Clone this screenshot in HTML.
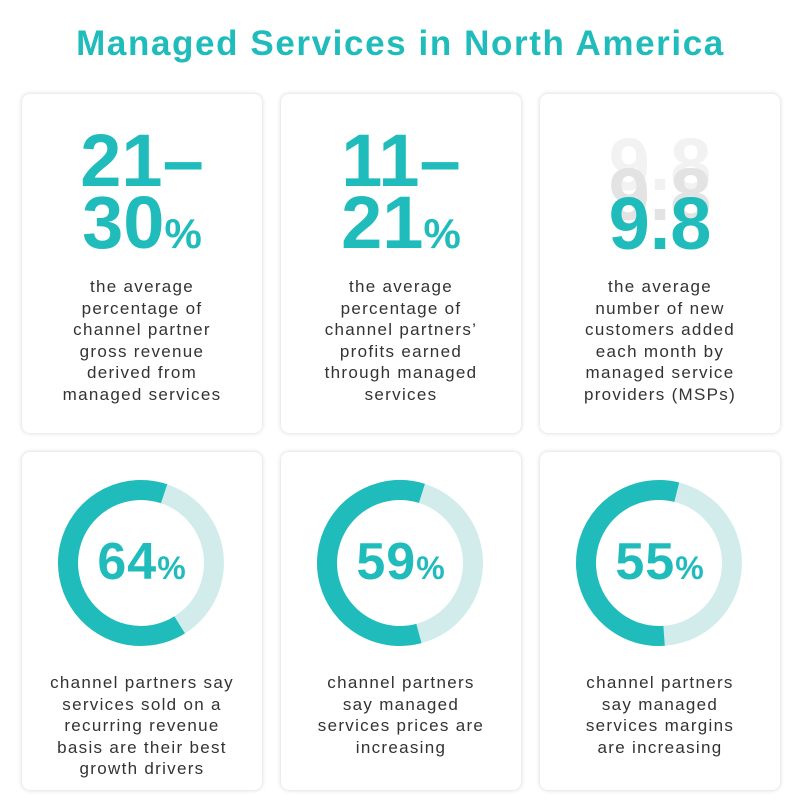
<!DOCTYPE html>
<html><head><meta charset="utf-8"><style>
body{margin:0;width:801px;height:810px;background:#fff;font-family:"Liberation Sans",sans-serif;position:relative;overflow:hidden}
.t{position:absolute;top:24px;left:0;width:801px;text-align:center;color:#1fbcbb;font-weight:bold;font-size:35px;letter-spacing:1.6px}
.c{position:absolute;width:240px;background:#fff;border-radius:8px;box-shadow:0 0 5px rgba(0,0,0,0.18)}
.big{position:absolute;left:0;width:240px;text-align:center;color:#1fbcbb;font-weight:bold;font-size:74px;line-height:62px;letter-spacing:0px}
.big small{font-size:42px}
.tx{position:absolute;left:0;width:240px;text-align:center;color:#333;font-size:17px;line-height:21.5px;letter-spacing:1.3px}
.pc{position:absolute;left:0;width:240px;text-align:center;color:#1fbcbb;font-weight:bold;font-size:52px;top:80px;letter-spacing:1px}
.pc small{font-size:32px}
svg{position:absolute;left:0;top:0}
</style></head><body>
<div class="t">Managed Services in North America</div>

<div class="c" style="left:22px;top:94px;height:339px">
<div class="big" style="top:36px">21–<br>30<small>%</small></div>
<div class="tx" style="top:182px">the average<br>percentage of<br>channel partner<br>gross revenue<br>derived from<br>managed services</div></div>

<div class="c" style="left:281px;top:94px;height:339px">
<div class="big" style="top:36px">11–<br>21<small>%</small></div>
<div class="tx" style="top:182px">the average<br>percentage of<br>channel partners’<br>profits earned<br>through managed<br>services</div></div>

<div class="c" style="left:540px;top:94px;height:339px">
<div class="big" style="top:40px;color:#f2f2f2">9.8</div>
<div class="big" style="top:70px;color:#e3e3e3">9.8</div>
<div class="big" style="top:99px">9.8</div>
<div class="tx" style="top:182px">the average<br>number of new<br>customers added<br>each month by<br>managed service<br>providers (MSPs)</div></div>

<div class="c" style="left:22px;top:452px;height:338px">
<svg width="240" height="240"><circle cx="119" cy="111" r="73" fill="none" stroke="#d2ecec" stroke-width="20"/><circle cx="119" cy="111" r="73" fill="none" stroke="#1fbcbb" stroke-width="20" stroke-dasharray="293.5 165.2" transform="rotate(58 119 111)"/></svg>
<div class="pc">64<small>%</small></div>
<div class="tx" style="top:220px">channel partners say<br>services sold on a<br>recurring revenue<br>basis are their best<br>growth drivers</div></div>

<div class="c" style="left:281px;top:452px;height:338px">
<svg width="240" height="240"><circle cx="119" cy="111" r="73" fill="none" stroke="#d2ecec" stroke-width="20"/><circle cx="119" cy="111" r="73" fill="none" stroke="#1fbcbb" stroke-width="20" stroke-dasharray="270.6 188.1" transform="rotate(75 119 111)"/></svg>
<div class="pc">59<small>%</small></div>
<div class="tx" style="top:220px">channel partners<br>say managed<br>services prices are<br>increasing</div></div>

<div class="c" style="left:540px;top:452px;height:338px">
<svg width="240" height="240"><circle cx="119" cy="111" r="73" fill="none" stroke="#d2ecec" stroke-width="20"/><circle cx="119" cy="111" r="73" fill="none" stroke="#1fbcbb" stroke-width="20" stroke-dasharray="252.3 206.4" transform="rotate(86 119 111)"/></svg>
<div class="pc">55<small>%</small></div>
<div class="tx" style="top:220px">channel partners<br>say managed<br>services margins<br>are increasing</div></div>
</body></html>
